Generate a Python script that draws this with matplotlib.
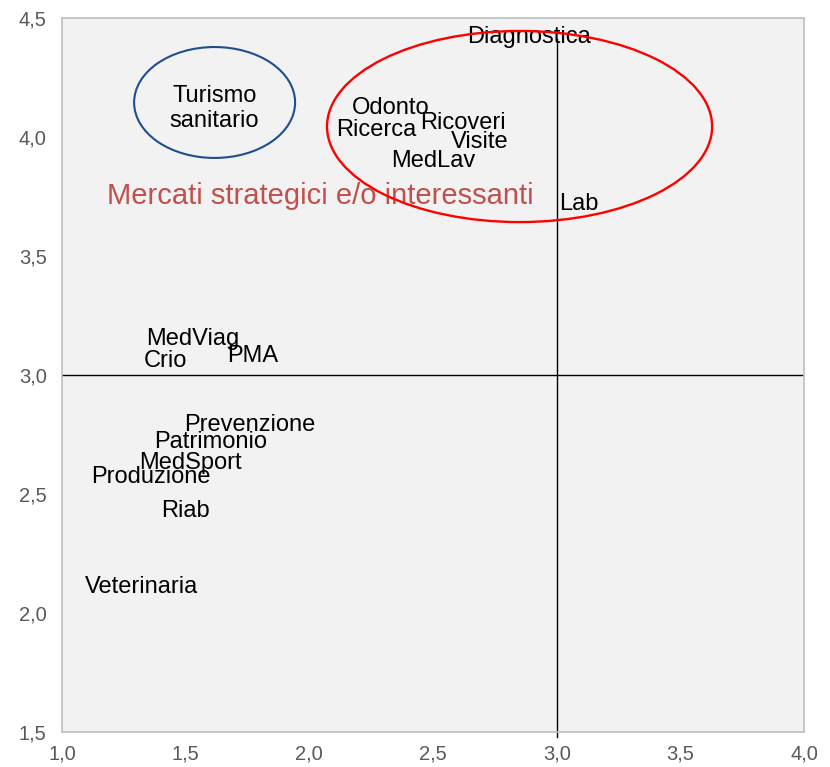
import matplotlib.pyplot as plt
from matplotlib.patches import Ellipse
from matplotlib.ticker import FuncFormatter

plt.rcParams['font.family'] = ['Liberation Sans', 'DejaVu Sans']

# mercati: attrattività (x) e posizionamento (y)
mercati = ["Diagnostica", "Odonto", "Ricerca", "Ricoveri", "Visite", "MedLav", "Lab",
           "MedViag", "Crio", "PMA", "Prevenzione", "Patrimonio", "MedSport",
           "Produzione", "Riab", "Veterinaria"]
x_vals = [2.89, 2.33, 2.27, 2.62, 2.69, 2.50, 3.09,
          1.53, 1.42, 1.77, 1.76, 1.60, 1.52,
          1.36, 1.50, 1.32]
y_vals = [4.42, 4.12, 4.03, 4.06, 3.98, 3.90, 3.72,
          3.15, 3.06, 3.08, 2.79, 2.72, 2.63,
          2.57, 2.43, 2.11]

x_ticks = [1.0, 1.5, 2.0, 2.5, 3.0, 3.5, 4.0]
y_ticks = [1.5, 2.0, 2.5, 3.0, 3.5, 4.0, 4.5]

fig = plt.figure(figsize=(8.3, 7.67), dpi=100)
ax = fig.add_axes([62 / 830, 1 - 732 / 767, 742 / 830, 714 / 767])
ax.set_facecolor("#f2f2f2")
ax.set_xlim(1.0, 4.0)
ax.set_ylim(1.5, 4.5)
ax.set_xticks(x_ticks)
ax.set_yticks(y_ticks)
virgola = FuncFormatter(lambda v, p: f"{v:.1f}".replace(".", ","))
ax.xaxis.set_major_formatter(virgola)
ax.yaxis.set_major_formatter(virgola)
ax.tick_params(length=0, labelsize=14.5, labelcolor="#595959")
ax.tick_params(axis="y", pad=11)
ax.tick_params(axis="x", pad=9)
for s in ax.spines.values():
    s.set_color("#bfbfbf")
    s.set_linewidth(1.2)

# assi dei quadranti
ax.plot([1.0, 4.0], [3.0, 3.0], color="black", lw=1.0, zorder=2)
ax.plot([3.0, 3.0], [1.48, 4.41], color="black", lw=1.0, zorder=2, clip_on=False)

for nome, xv, yv in zip(mercati, x_vals, y_vals):
    ax.text(xv, yv, nome, ha="center", va="center", fontsize=17, color="black", zorder=3)

# raggruppamenti
ax.add_patch(Ellipse((1.617, 4.145), 0.651, 0.466, fill=False, ec="#1f4e8c", lw=1.5, zorder=4))
ax.add_patch(Ellipse((2.85, 4.044), 1.557, 0.803, fill=False, ec="#ff0000", lw=1.7, zorder=4))

ax.text(1.617, 4.12, "Turismo\nsanitario", ha="center", va="center", fontsize=17,
        linespacing=1.15, zorder=3)
ax.text(2.043, 3.752, "Mercati strategici e/o interessanti", ha="center", va="center",
        fontsize=21, color="#c0504d", zorder=3)

fig.savefig("out.png", dpi=100)
